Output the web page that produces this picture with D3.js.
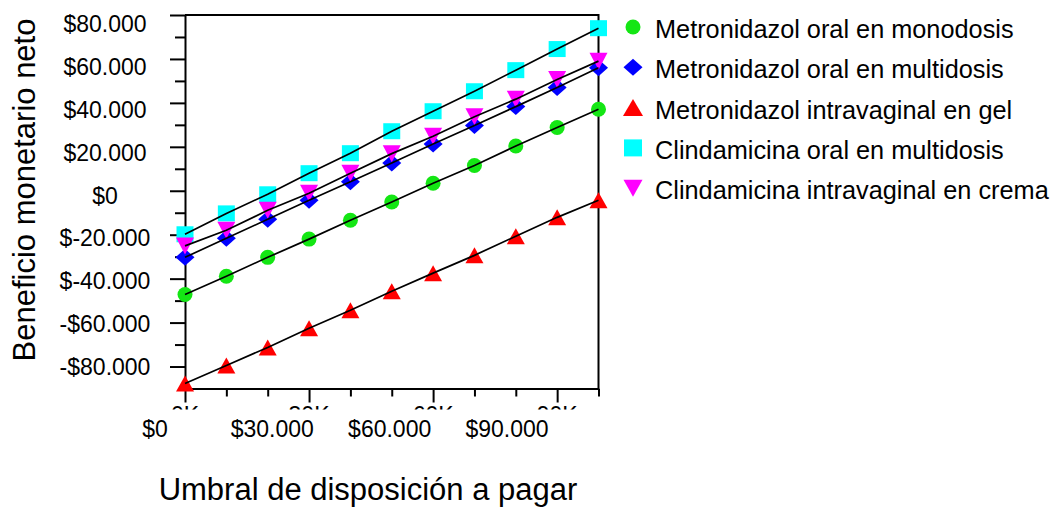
<!DOCTYPE html>
<html>
<head>
<meta charset="utf-8">
<script src="https://cdn.jsdelivr.net/npm/d3@7"></script>
<style>
  body{ margin:0; background:#fff; }
  svg{ display:block; }
  text{ font-family:"Liberation Sans", Arial, sans-serif; fill:#000; }
</style>
</head>
<body>
<svg id="chart" width="1051" height="507"></svg>
<script>
// <-- Data -->
const umbral = [0, 10000, 20000, 30000, 40000, 50000, 60000, 70000, 80000, 90000, 100000];

const metroMono    = [-47200, -38900, -30300, -22000, -13400, -5100, 3400, 11500, 20400, 28800, 37100];
const metroMulti   = [-30300, -21600, -13000, -4300, 4100, 12600, 21300, 29700, 38300, 47000, 56000];
const metroGel     = [-87700, -79500, -71300, -62600, -54400, -45700, -37500, -29400, -20700, -12100, -4300];
const clindaMulti  = [-19800, -10300, -1600, 8000, 17100, 27100, 36200, 45300, 54900, 64500, 74000];
const clindaCrema  = [-25100, -18000, -8900, -1100, 8000, 16900, 24800, 33700, 41700, 50600, 59000];

const seriesNames = [
  "Metronidazol oral en monodosis",
  "Metronidazol oral en multidosis",
  "Metronidazol intravaginal en gel",
  "Clindamicina oral en multidosis",
  "Clindamicina intravaginal en crema"
];
const seriesColors = ["#14e614", "#0000ff", "#ff0000", "#00ffff", "#ff00ff"];

const yMajor = [80000, 60000, 40000, 20000, 0, -20000, -40000, -60000, -80000];
const yMinor = [70000, 50000, 30000, 10000, -10000, -30000, -50000, -70000];
const yLabels = ["$80.000", "$60.000", "$40.000", "$20.000", "$0", "$-20.000", "$-40.000", "-$60.000", "-$80.000"];

const xMajor = [0, 30000, 60000, 90000];
const xMinor = [10000, 20000, 40000, 50000, 70000, 80000, 100000];
const xLabels = ["$0", "$30.000", "$60.000", "$90.000"];
const xHidden = ["0K", "30K", "60K", "90K"];

;(function(){
  const svg = d3.select("#chart");

  const x = d3.scaleLinear().domain([0, 100000]).range([185, 598.5]);
  const y = d3.scaleLinear().domain([-90000, 80000]).range([388.5, 15]);
  // tick labels sit on a slightly different grid than the ticks themselves
  const yLab = d3.scaleLinear().domain([-80000, 80000]).range([367, 24]);
  const xLab = d3.scaleLinear().domain([0, 90000]).range([155, 507]);

  // marker shapes, sized by width / height
  function shape(kind, w, h){
    return { draw: function(ctx){
      if(kind === "circle"){ ctx.moveTo(w/2, 0); ctx.arc(0, 0, w/2, 0, 2*Math.PI); }
      else if(kind === "square"){ ctx.rect(-w/2, -h/2, w, h); }
      else if(kind === "diamond"){
        ctx.moveTo(0, -h/2); ctx.lineTo(w/2, 0); ctx.lineTo(0, h/2); ctx.lineTo(-w/2, 0); ctx.closePath();
      }
      else if(kind === "up"){
        ctx.moveTo(0, -h/2); ctx.lineTo(w/2, h/2); ctx.lineTo(-w/2, h/2); ctx.closePath();
      }
      else {
        ctx.moveTo(-w/2, -h/2); ctx.lineTo(w/2, -h/2); ctx.lineTo(0, h/2); ctx.closePath();
      }
    }};
  }
  const plotShapes = [shape("circle", 15, 15), shape("diamond", 19, 17), shape("up", 18, 16),
                      shape("square", 17, 16), shape("down", 18, 17)];
  const legendShapes = [shape("circle", 15, 15), shape("diamond", 19, 17), shape("up", 20, 17),
                        shape("square", 18, 17), shape("down", 19, 17)];
  const values = [metroMono, metroMulti, metroGel, clindaMulti, clindaCrema];

  // axes
  const gy = svg.append("g").attr("transform", "translate(" + x(0) + ",0)").attr("stroke-width", 2);
  gy.call(d3.axisLeft(y).tickValues(yMajor).tickSize(15).tickSizeOuter(0).tickFormat(""));
  gy.append("g").call(d3.axisLeft(y).tickValues(yMinor).tickSize(10).tickFormat(""))
    .select(".domain").remove();

  const gx = svg.append("g").attr("transform", "translate(0," + y(-90000) + ")").attr("stroke-width", 2);
  gx.call(d3.axisBottom(x).tickValues(xMajor).tickSize(14).tickSizeOuter(0).tickFormat(""));
  gx.append("g").call(d3.axisBottom(x).tickValues(xMinor).tickSize(8).tickFormat(""))
    .select(".domain").remove();

  // frame
  svg.append("path")
     .attr("d", "M" + x(0) + "," + y(80000) + "H" + x(100000) + "V" + y(-90000))
     .attr("fill", "none").attr("stroke", "#000").attr("stroke-width", 2);

  // tick labels
  svg.selectAll(".ylab").data(yMajor).enter().append("text")
     .attr("x", 105).attr("y", d => yLab(d)).attr("dy", "0.35em")
     .attr("text-anchor", "middle").style("font-size", "23px")
     .text((d, i) => yLabels[i]);

  svg.selectAll(".xlab").data(xMajor).enter().append("text")
     .attr("x", d => xLab(d)).attr("y", 437)
     .attr("text-anchor", "middle").style("font-size", "23px")
     .text((d, i) => xLabels[i]);

  // leftover labels, only their top edge shows under the ticks
  svg.append("clipPath").attr("id", "cut").append("rect")
     .attr("x", 140).attr("y", 406).attr("width", 480).attr("height", 3.5);
  svg.append("g").attr("clip-path", "url(#cut)")
     .selectAll("text").data(xMajor).enter().append("text")
     .attr("x", d => x(d)).attr("y", 423)
     .attr("text-anchor", "middle").style("font-size", "23px")
     .text((d, i) => xHidden[i]);

  // markers
  values.forEach(function(vals, s){
    svg.append("g").selectAll("path").data(vals).enter().append("path")
       .attr("transform", (d, i) => "translate(" + x(umbral[i]) + "," + y(d) + ")")
       .attr("d", d3.symbol().type(plotShapes[s]))
       .attr("fill", seriesColors[s]);
  });

  // lines on top
  const line = d3.line().x((d, i) => x(umbral[i])).y(d => y(d));
  values.forEach(function(vals){
    svg.append("path").attr("d", line(vals))
       .attr("fill", "none").attr("stroke", "#000").attr("stroke-width", 1.7);
  });

  // legend
  const legend = svg.append("g");
  seriesNames.forEach(function(name, i){
    legend.append("path")
          .attr("transform", "translate(633," + (27 + i*40.3) + ")")
          .attr("d", d3.symbol().type(legendShapes[i]))
          .attr("fill", seriesColors[i]);
    legend.append("text")
          .attr("x", 655).attr("y", 38 + i*40.3)
          .style("font-size", "25.3px")
          .text(name);
  });

  // axis titles
  svg.append("text")
     .attr("transform", "translate(35,190) rotate(-90)")
     .attr("text-anchor", "middle").style("font-size", "31px")
     .text("Beneficio monetario neto");
  svg.append("text")
     .attr("x", 368).attr("y", 500)
     .attr("text-anchor", "middle").style("font-size", "31px")
     .text("Umbral de disposición a pagar");
})();
</script>
</body>
</html>
